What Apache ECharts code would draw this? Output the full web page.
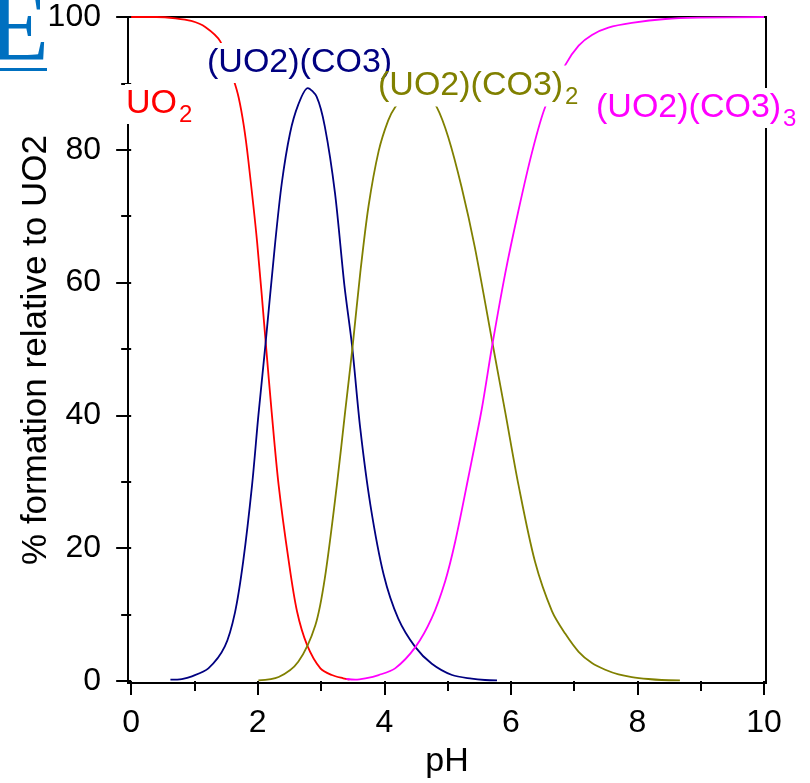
<!DOCTYPE html>
<html>
<head>
<meta charset="utf-8">
<script src="https://cdn.jsdelivr.net/npm/echarts@6/dist/echarts.min.js"></script>
<style>
  html, body { margin: 0; padding: 0; background: #fff; }
  #chart { width: 810px; height: 783px; }
</style>
</head>
<body>
<div id="chart"></div>
<script>
// tick values
var xTicks = [0, 2, 4, 6, 8, 10];
var xMinorTicks = [1, 3, 5, 7, 9];
var yTicks = [0, 20, 40, 60, 80, 100];
var yMinorTicks = [10, 30, 50, 70, 90];

// UO2 (red)
var uo2PH = [0, 0.4, 0.7, 0.95, 1.17, 1.41, 1.62, 1.7, 1.78, 1.85, 1.99, 2.13, 2.22, 2.33, 2.49, 2.62, 2.78, 2.99, 3.17, 3.35, 3.45];
var uo2Pct = [100, 100, 99.8, 99.4, 98.5, 96.3, 90.5, 87.8, 83.6, 78.5, 66.1, 50.5, 40.5, 29.5, 18.0, 10.5, 5.4, 1.9, 0.9, 0.4, 0.2];

// (UO2)(CO3) (navy)
var co3PH = [0.62, 0.8, 0.96, 1.22, 1.48, 1.64, 1.77, 1.91, 2.01, 2.12, 2.27, 2.38, 2.51, 2.64, 2.79, 2.93, 3.06, 3.22, 3.37, 3.49, 3.62, 3.78, 3.99, 4.22, 4.49, 4.75, 5.07, 5.38, 5.59, 5.78];
var co3Pct = [0.2, 0.3, 0.7, 1.9, 5.2, 10.3, 18.0, 29.5, 40.0, 50.5, 65.5, 75.0, 82.5, 86.8, 89.3, 88.0, 83.5, 73.5, 59.5, 50.5, 38.0, 26.5, 16.0, 9.4, 5.1, 2.6, 0.9, 0.35, 0.15, 0.1];

// (UO2)(CO3)2 (olive)
var co32PH = [2.01, 2.33, 2.64, 2.91, 3.06, 3.25, 3.38, 3.5, 3.62, 3.75, 3.91, 4.06, 4.17, 4.35, 4.5, 4.65, 4.83, 5.01, 5.22, 5.43, 5.72, 5.91, 6.12, 6.38, 6.65, 6.86, 7.07, 7.28, 7.49, 7.7, 7.91, 8.17, 8.38, 8.67];
var co32Pct = [0.1, 0.6, 2.9, 8.4, 15.5, 29.5, 40.5, 50.5, 61.5, 71.5, 79.8, 84.4, 86.4, 88.4, 89.0, 88.5, 86.4, 81.9, 74.4, 65.3, 50.3, 40.5, 29.5, 18.0, 10.5, 7.1, 4.4, 2.7, 1.7, 1.0, 0.6, 0.3, 0.15, 0.1];

// (UO2)(CO3)3 (magenta)
var co33PH = [3.4, 3.54, 3.7, 3.91, 4.17, 4.49, 4.75, 4.96, 5.12, 5.33, 5.54, 5.7, 5.91, 6.12, 6.33, 6.54, 6.86, 7.07, 7.28, 7.54, 7.91, 8.44, 8.96, 10];
var co33Pct = [0.3, 0.2, 0.4, 0.9, 1.9, 5.1, 9.5, 15.0, 21.0, 30.8, 41.0, 50.3, 61.4, 70.9, 79.5, 86.4, 92.8, 95.7, 97.3, 98.4, 99.1, 99.7, 99.9, 100];

function zip(xs, ys) {
  var out = [];
  for (var i = 0; i < xs.length; i++) out.push([xs[i], ys[i]]);
  return out;
}

var font = 'Liberation Sans, Arial, sans-serif';
var ctx = document.createElement('canvas').getContext('2d');
function textWidth(str, size) {
  ctx.font = size + 'px ' + font;
  return ctx.measureText(str).width;
}

var chart = echarts.init(document.getElementById('chart'));

function line(name, xs, ys, color) {
  return {
    name: name,
    type: 'line',
    data: zip(xs, ys),
    showSymbol: false,
    symbol: 'none',
    smooth: 0.3,
    lineStyle: { color: color, width: 1.8 },
    itemStyle: { color: color }
  };
}

// annotation label with white box, optional subscript
function label(x, midY, main, sub, color, boxH) {
  var mainSize = 34, subSize = 24;
  var mw = textWidth(main, mainSize);
  var sw = sub ? textWidth(sub, subSize) + 2 : 0;
  var h = boxH || 40;
  var els = [
    {
      type: 'rect',
      z: 99,
      shape: { x: x - 1, y: midY - h / 2, width: mw + sw + 3, height: h },
      style: { fill: '#fff' }
    },
    {
      type: 'text',
      z: 100,
      x: x,
      y: midY,
      style: { text: main, fill: color, fontSize: mainSize, fontFamily: font, verticalAlign: 'middle' }
    }
  ];
  if (sub) {
    els.push({
      type: 'text',
      z: 100,
      x: x + mw + 2,
      y: midY + 11,
      style: { text: sub, fill: color, fontSize: subSize, fontFamily: font, verticalAlign: 'middle' }
    });
  }
  return els;
}

var xAxisBase = {
  type: 'value',
  min: -0.05,
  max: 10.03,
  position: 'bottom',
  offset: 4,
  axisLine: { show: false },
  splitLine: { show: false }
};
var yAxisBase = {
  type: 'value',
  min: -0.3,
  max: 100,
  position: 'left',
  offset: 0,
  axisLine: { show: false },
  splitLine: { show: false }
};

var graphics = [
  {
    type: 'text',
    z: 100,
    x: -12,
    y: 33,
    style: {
      text: 'E',
      fill: '#0070c0',
      fontSize: 100,
      fontFamily: 'Liberation Serif, Times New Roman, serif',
      verticalAlign: 'middle'
    }
  },
  {
    type: 'rect',
    z: 100,
    shape: { x: 0, y: 68, width: 47, height: 3 },
    style: { fill: '#0070c0' }
  }
];
graphics = graphics
  .concat(label(126, 104, 'UO', '2', '#ff0000'))
  .concat(label(207, 63, '(UO2)(CO3)', '', '#000080'))
  .concat(label(378, 86, '(UO2)(CO3)', '2', '#808000', 41))
  .concat(label(596, 108, '(UO2)(CO3)', '3', '#ff00ff'));

var option = {
  animation: false,
  backgroundColor: '#fff',
  grid: {
    left: 128,
    right: 44,
    top: 17,
    bottom: 100,
    outerBoundsMode: 'none',
    containLabel: false,
    show: true,
    borderColor: '#000',
    borderWidth: 2,
    backgroundColor: 'transparent'
  },
  xAxis: [
    Object.assign({}, xAxisBase, {
      name: 'pH',
      nameLocation: 'middle',
      nameGap: 58,
      nameMoveOverlap: false,
      nameTextStyle: { fontSize: 34, fontFamily: font, color: '#000' },
      axisTick: { show: true, customValues: xTicks, length: 14, lineStyle: { color: '#000', width: 2 } },
      axisLabel: { show: true, customValues: xTicks, fontSize: 32, fontFamily: font, color: '#000', margin: 20 }
    }),
    Object.assign({}, xAxisBase, {
      axisTick: { show: true, customValues: xMinorTicks, length: 10, lineStyle: { color: '#000', width: 2 } },
      axisLabel: { show: false }
    })
  ],
  yAxis: [
    Object.assign({}, yAxisBase, {
      name: '% formation relative to UO2',
      nameLocation: 'middle',
      nameGap: 74,
      nameMoveOverlap: false,
      nameTextStyle: { fontSize: 35, fontFamily: font, color: '#000' },
      axisTick: { show: true, customValues: yTicks, length: 15, lineStyle: { color: '#000', width: 2 } },
      axisLabel: { show: true, customValues: yTicks, fontSize: 32, fontFamily: font, color: '#000', margin: 27 }
    }),
    Object.assign({}, yAxisBase, {
      axisTick: { show: true, customValues: yMinorTicks, length: 10, lineStyle: { color: '#000', width: 2 } },
      axisLabel: { show: false }
    })
  ],
  series: [
    line('UO2', uo2PH, uo2Pct, '#ff0000'),
    line('(UO2)(CO3)', co3PH, co3Pct, '#000080'),
    line('(UO2)(CO3)2', co32PH, co32Pct, '#808000'),
    line('(UO2)(CO3)3', co33PH, co33Pct, '#ff00ff')
  ],
  graphic: graphics
};
chart.setOption(option);
</script>
</body>
</html>
